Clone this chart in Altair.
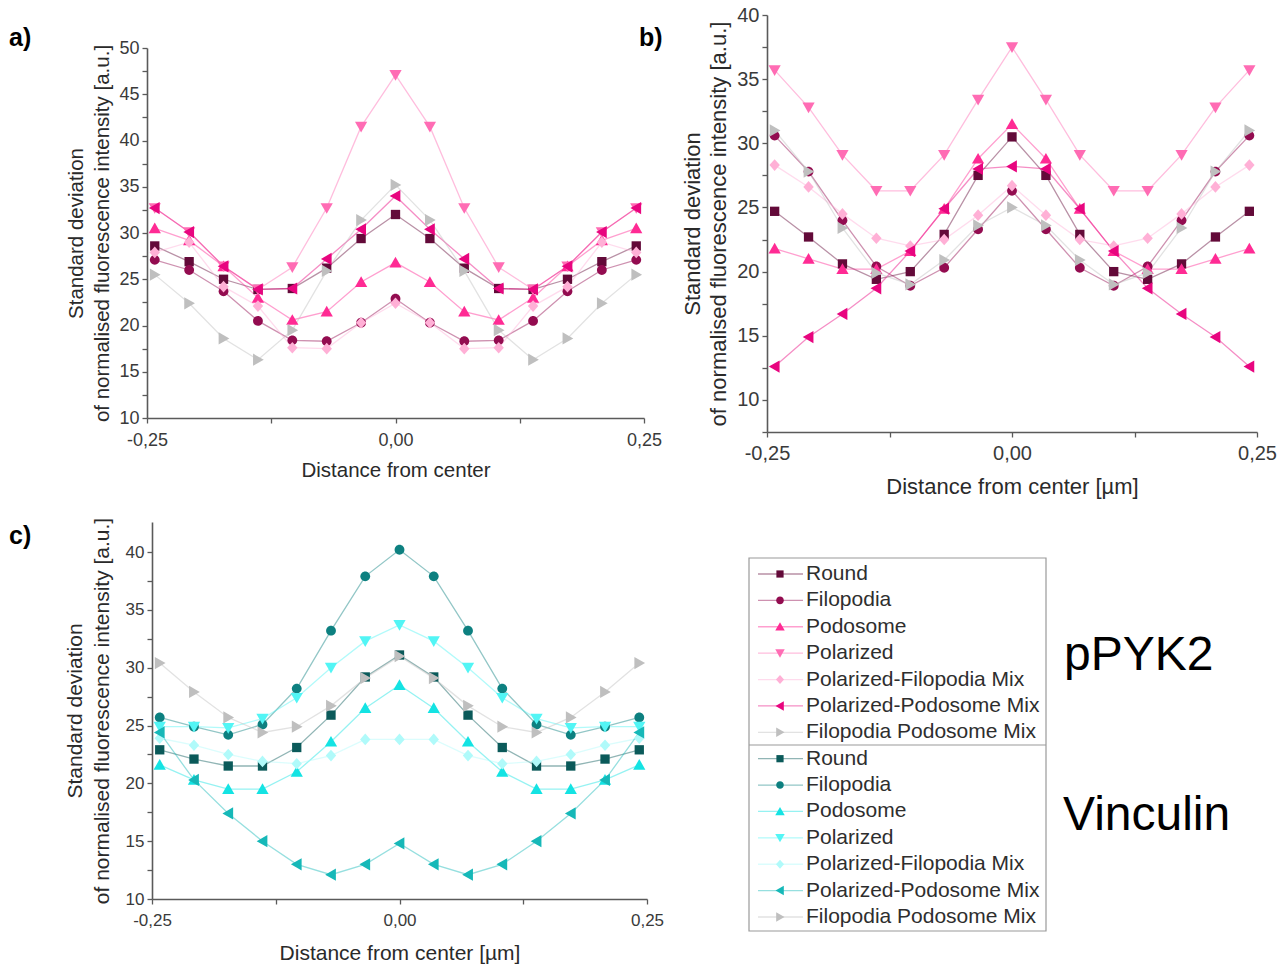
import altair as alt
import pandas as pd

# ---------------- data ----------------
X_POS = [-0.2422, -0.2076, -0.1730, -0.1384, -0.1038, -0.0692, -0.0346, 0.0,
         0.0346, 0.0692, 0.1038, 0.1384, 0.1730, 0.2076, 0.2422]

SERIES = ["Round", "Filopodia", "Podosome", "Polarized",
          "Polarized-Filopodia Mix", "Polarized-Podosome Mix", "Filopodia Podosome Mix"]
SQUARE = "M-0.76,-0.76L0.76,-0.76L0.76,0.76L-0.76,0.76Z"
CIRCLE = "M-0.8,0A0.8,0.8,0,1,0,0.8,0A0.8,0.8,0,1,0,-0.8,0Z"
TRI_UP = "M0,-0.95L1,0.8L-1,0.8Z"
TRI_DOWN = "M0,0.95L1,-0.8L-1,-0.8Z"
TRI_LEFT = "M-0.95,0L0.8,-1L0.8,1Z"
TRI_RIGHT = "M0.95,0L-0.8,-1L-0.8,1Z"
DIAMOND = "M0,-0.95L0.85,0L0,0.95L-0.85,0Z"
SHAPES = [SQUARE, CIRCLE, TRI_UP, TRI_DOWN, DIAMOND, TRI_LEFT, TRI_RIGHT]
PINK = ["#630a39", "#930c50", "#ff2b94", "#ff6cb4", "#ffb0d6", "#e8057f", "#bfbfbf"]
TEAL = ["#0b5a5a", "#0d8080", "#14e3e3", "#52f5f5", "#b0fafa", "#16b8b8", "#bfbfbf"]

# panel a) pPYK2
A_ROUND = [28.6, 26.9, 25.0, 23.9, 24.0, 26.2, 29.4, 32.0, 29.4, 26.2, 24.0, 23.9, 25.0, 26.9, 28.6]
A_FILO = [27.1, 26.0, 23.7, 20.5, 18.4, 18.3, 20.3, 22.9, 20.3, 18.3, 18.4, 20.5, 23.7, 26.0, 27.1]
A_PODO = [30.5, 29.2, 26.4, 23.0, 20.6, 21.5, 24.7, 26.8, 24.7, 21.5, 20.6, 23.0, 26.4, 29.2, 30.5]
A_POLA = [32.7, 30.1, 26.4, 23.9, 26.3, 32.7, 41.5, 47.1, 41.5, 32.7, 26.3, 23.9, 26.4, 30.1, 32.7]
A_PFMIX = [27.9, 29.0, 24.2, 22.1, 17.6, 17.5, 20.3, 22.4, 20.3, 17.5, 17.6, 22.1, 24.2, 29.0, 27.9]
A_PPMIX = [32.7, 30.1, 26.4, 23.9, 24.0, 27.2, 30.4, 34.0, 30.4, 27.2, 24.0, 23.9, 26.4, 30.1, 32.7]
A_FPMIX = [25.5, 22.4, 18.6, 16.3, 19.5, 25.9, 31.4, 35.2, 31.4, 25.9, 19.5, 16.3, 18.6, 22.4, 25.5]

# panel b) pPYK2
B_ROUND = [24.7, 22.7, 20.6, 19.4, 20.0, 22.9, 27.5, 30.5, 27.5, 22.9, 20.0, 19.4, 20.6, 22.7, 24.7]
B_FILO = [30.6, 27.8, 24.0, 20.4, 18.9, 20.3, 23.3, 26.3, 23.3, 20.3, 18.9, 20.4, 24.0, 27.8, 30.6]
B_PODO = [21.8, 21.0, 20.2, 20.2, 21.6, 24.9, 28.8, 31.5, 28.8, 24.9, 21.6, 20.2, 20.2, 21.0, 21.8]
B_POLA = [35.7, 32.8, 29.1, 26.3, 26.3, 29.1, 33.4, 37.5, 33.4, 29.1, 26.3, 26.3, 29.1, 32.8, 35.7]
B_PFMIX = [28.3, 26.6, 24.5, 22.6, 22.0, 22.5, 24.4, 26.7, 24.4, 22.5, 22.0, 22.6, 24.5, 26.6, 28.3]
B_PPMIX = [12.6, 14.9, 16.7, 18.7, 21.6, 24.9, 28.0, 28.2, 28.0, 24.9, 21.6, 18.7, 16.7, 14.9, 12.6]
B_FPMIX = [31.0, 27.8, 23.4, 19.9, 19.0, 20.9, 23.6, 25.0, 23.6, 20.9, 19.0, 19.9, 23.4, 27.8, 31.0]

# panel c) Vinculin
C_ROUND = [22.9, 22.1, 21.5, 21.5, 23.1, 25.9, 29.2, 31.1, 29.2, 25.9, 23.1, 21.5, 21.5, 22.1, 22.9]
C_FILO = [25.7, 24.9, 24.2, 25.1, 28.2, 33.2, 37.9, 40.2, 37.9, 33.2, 28.2, 25.1, 24.2, 24.9, 25.7]
C_PODO = [21.6, 20.3, 19.5, 19.5, 21.0, 23.6, 26.5, 28.5, 26.5, 23.6, 21.0, 19.5, 19.5, 20.3, 21.6]
C_POLA = [24.9, 24.9, 24.8, 25.6, 27.4, 30.0, 32.3, 33.7, 32.3, 30.0, 27.4, 25.6, 24.8, 24.9, 24.9]
C_PFMIX = [23.9, 23.3, 22.5, 21.9, 21.7, 22.4, 23.8, 23.8, 23.8, 22.4, 21.7, 21.9, 22.5, 23.3, 23.9]
C_PPMIX = [24.4, 20.3, 17.4, 15.0, 13.0, 12.1, 13.0, 14.8, 13.0, 12.1, 13.0, 15.0, 17.4, 20.3, 24.4]
C_FPMIX = [30.4, 27.9, 25.7, 24.4, 24.9, 26.7, 29.1, 31.0, 29.1, 26.7, 24.9, 24.4, 25.7, 27.9, 30.4]

PANEL_A = [A_ROUND, A_FILO, A_PODO, A_POLA, A_PFMIX, A_PPMIX, A_FPMIX]
PANEL_B = [B_ROUND, B_FILO, B_PODO, B_POLA, B_PFMIX, B_PPMIX, B_FPMIX]
PANEL_C = [C_ROUND, C_FILO, C_PODO, C_POLA, C_PFMIX, C_PPMIX, C_FPMIX]

Y_TITLE = ["Standard deviation", "of normalised fluorescence intensity [a.u.]"]
FONT = "Liberation Sans"
W, H = 1284, 965


def to_df(panel):
    rows = []
    for s, vals in zip(SERIES, panel):
        for x, v in zip(X_POS, vals):
            rows.append({"x": x, "y": v, "series": s})
    return pd.DataFrame(rows)


X_LABEL = ("abs(datum.value) > 0.1 && abs(datum.value) < 0.2 ? '' : "
           "(datum.value < 0 ? '-' : '') + replace(format(abs(datum.value), '.2f'), '.', ',')")
Y_LABEL = "datum.value % 5 == 0 ? format(datum.value, 'd') : ''"


def panel(panel_vals, colors, xr, yr, ydom, yticks, xtitle, tick_fs, title_fs,
          x_lpad, x_tpad, y_tpad, line_h):
    df = to_df(panel_vals)
    x_left, x_right = xr
    y_bottom, y_top = yr
    common_axis = dict(grid=False, domainColor="#5a5a5a", tickColor="#5a5a5a",
                       domainWidth=1.6, tickWidth=1.3,
                       labelColor="#3a3a3a", titleColor="#2a2a2a",
                       labelFont=FONT, titleFont=FONT, titleFontWeight="normal",
                       labelFontSize=tick_fs, titleFontSize=title_fs,
                       labelOverlap=False, labelFlush=False)
    xenc = alt.X("x:Q",
                 scale=alt.Scale(domain=[-0.25, 0.25], range=[x_left, x_right], nice=False, zero=False),
                 axis=alt.Axis(orient="bottom", offset=-(H - y_bottom),
                               values=[-0.25, -0.125, 0, 0.125, 0.25], labelExpr=X_LABEL,
                               title=xtitle, tickSize=5, labelPadding=x_lpad, titlePadding=x_tpad,
                               **common_axis))
    yenc = alt.Y("y:Q",
                 scale=alt.Scale(domain=ydom, range=[y_bottom, y_top], nice=False, zero=False),
                 axis=alt.Axis(orient="left", offset=-x_left, values=yticks, labelExpr=Y_LABEL,
                               title=Y_TITLE, tickSize=5, labelPadding=3, titlePadding=y_tpad,
                               titleLineHeight=line_h, **common_axis))
    color = alt.Color("series:N", scale=alt.Scale(domain=SERIES, range=colors), legend=None)
    shape = alt.Shape("series:N", scale=alt.Scale(domain=SERIES, range=SHAPES), legend=None)
    base = alt.Chart(df)
    lines = base.mark_line(strokeWidth=1.3, opacity=0.45).encode(x=xenc, y=yenc, color=color,
                                                                 detail="series:N")
    pts = base.mark_point(filled=True, opacity=1, size=150).encode(x=xenc, y=yenc, color=color,
                                                                    shape=shape)
    return alt.layer(lines, pts)


def ticks(lo, hi):
    out = []
    v = lo
    while v <= hi + 1e-9:
        out.append(round(v, 2))
        v += 2.5
    return out


pa = panel(PANEL_A, PINK, (147, 644), (418, 48), [10, 50], ticks(10, 50),
           "Distance from center", 18, 20.5, 8, 11, 6, 26)
pb = panel(PANEL_B, PINK, (767, 1257), (432, 15), [7.5, 40], ticks(7.5, 40),
           "Distance from center [µm]", 20, 22, 6, 13, 6, 26)
pc = panel(PANEL_C, TEAL, (152, 647), (899, 522), [10, 42.6], ticks(10, 40),
           "Distance from center [µm]", 17, 21, 8, 14, 13, 27)

# ---------------- legend (drawn with marks) ----------------
leg_rows = []
for g in ("pPYK2", "Vinculin"):
    for s in SERIES:
        leg_rows.append({"key": g + "|" + s, "label": s, "row": len(leg_rows)})
leg_df = pd.DataFrame(leg_rows)
LEG_KEYS = list(leg_df["key"])
leg_y = alt.Y("row:Q", scale=alt.Scale(domain=[0, 13], range=[574, 917], nice=False, zero=False),
              axis=None)
leg_color = alt.Color("key:N", scale=alt.Scale(domain=LEG_KEYS, range=PINK + TEAL), legend=None)
leg_shape = alt.Shape("key:N", scale=alt.Scale(domain=LEG_KEYS, range=SHAPES + SHAPES), legend=None)

one = alt.Data(values=[{"k": 1}])
box = alt.Chart(one).mark_rect(fill="white", stroke="#9a9a9a", strokeWidth=1.2).encode(
    x=alt.value(749), x2=alt.value(1046), y=alt.value(558), y2=alt.value(931))
sep = alt.Chart(one).mark_rule(color="#9a9a9a", strokeWidth=1.2).encode(
    x=alt.value(749), x2=alt.value(1046), y=alt.value(745))
leg_lines = alt.Chart(leg_df).mark_rule(strokeWidth=1.3, opacity=0.45).encode(
    x=alt.value(758), x2=alt.value(803), y=leg_y, color=leg_color)
leg_pts = alt.Chart(leg_df).mark_point(filled=True, opacity=1, size=90).encode(
    x=alt.value(780), y=leg_y, color=leg_color, shape=leg_shape)
leg_text = alt.Chart(leg_df).mark_text(align="left", baseline="middle", font=FONT, fontSize=21,
                                       color="#2e2e2e").encode(
    x=alt.value(806), y=leg_y, text="label:N")


def label(txt, x, y, size, weight="normal"):
    return alt.Chart(one).mark_text(align="left", baseline="middle", font=FONT, fontSize=size,
                                    fontWeight=weight, color="black").encode(
        x=alt.value(x), y=alt.value(y), text=alt.value(txt))


texts = [label("a)", 9, 38, 25, "bold"), label("b)", 639, 38, 25, "bold"),
         label("c)", 9, 536, 25, "bold"),
         label("pPYK2", 1064, 656, 48), label("Vinculin", 1063, 816, 48)]

chart = alt.layer(pa, pb, pc, box, sep, leg_lines, leg_pts, leg_text, *texts).resolve_scale(
    x="independent", y="independent", color="independent", shape="independent"
).properties(
    width=W, height=H, padding=0, autosize=alt.AutoSizeParams(type="none"), background="white"
).configure_view(strokeWidth=0)

chart.save("out.html", embed_options={"renderer": "svg", "actions": False})
